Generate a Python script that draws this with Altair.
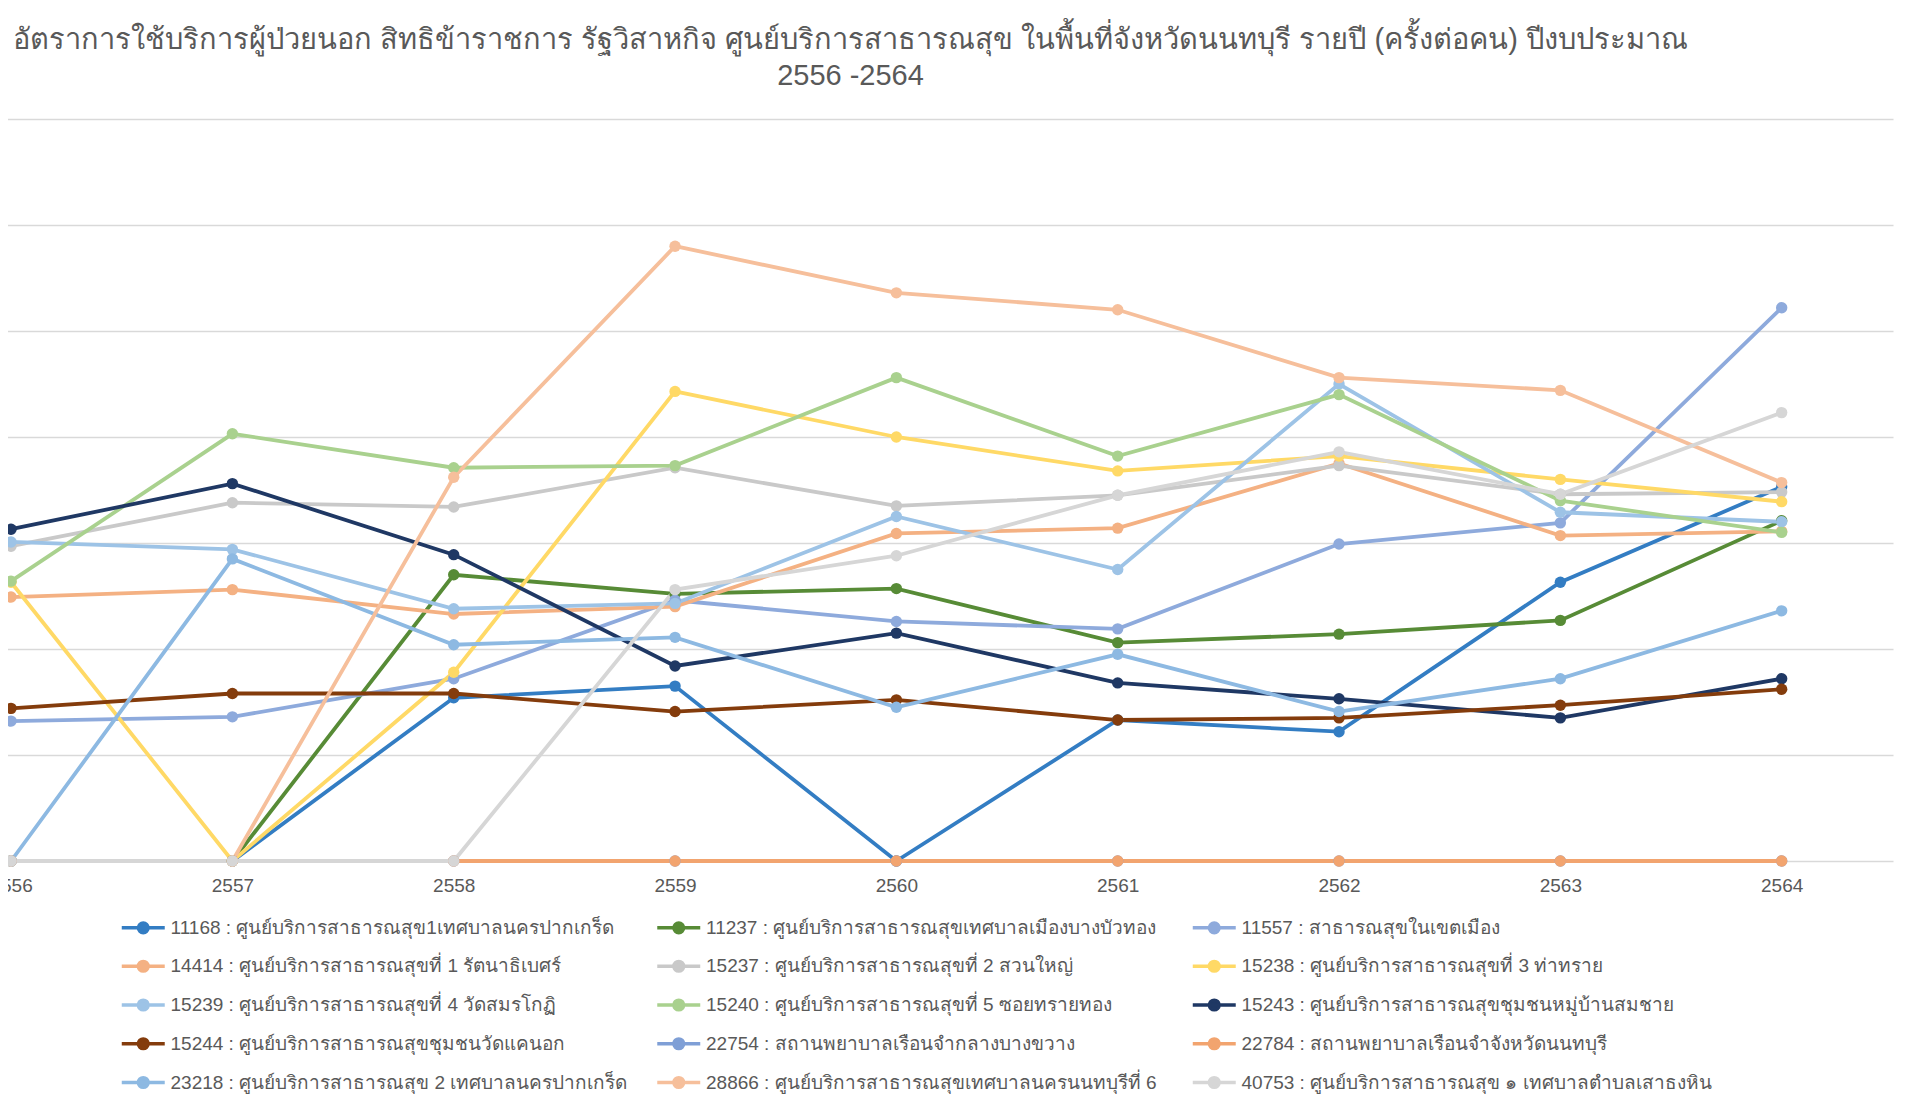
import altair as alt
import pandas as pd

years = [2556, 2557, 2558, 2559, 2560, 2561, 2562, 2563, 2564]

series_names = [
    "11168 : ศูนย์บริการสาธารณสุข1เทศบาลนครปากเกร็ด",
    "11237 : ศูนย์บริการสาธารณสุขเทศบาลเมืองบางบัวทอง",
    "11557 : สาธารณสุขในเขตเมือง",
    "14414 : ศูนย์บริการสาธารณสุขที่ 1 รัตนาธิเบศร์",
    "15237 : ศูนย์บริการสาธารณสุขที่ 2 สวนใหญ่",
    "15238 : ศูนย์บริการสาธารณสุขที่ 3 ท่าทราย",
    "15239 : ศูนย์บริการสาธารณสุขที่ 4 วัดสมรโกฏิ",
    "15240 : ศูนย์บริการสาธารณสุขที่ 5 ซอยทรายทอง",
    "15243 : ศูนย์บริการสาธารณสุขชุมชนหมู่บ้านสมชาย",
    "15244 : ศูนย์บริการสาธารณสุขชุมชนวัดแคนอก",
    "22754 : สถานพยาบาลเรือนจำกลางบางขวาง",
    "22784 : สถานพยาบาลเรือนจำจังหวัดนนทบุรี",
    "23218 : ศูนย์บริการสาธารณสุข 2 เทศบาลนครปากเกร็ด",
    "28866 : ศูนย์บริการสาธารณสุขเทศบาลนครนนทบุรีที่ 6",
    "40753 : ศูนย์บริการสาธารณสุข ๑ เทศบาลตำบลเสาธงหิน",
]

series_colors = [
    "#337DC3", "#578B36", "#8EAADC", "#F4B183", "#C9C9C9",
    "#FFD966", "#9DC3E6", "#A9D18E", "#1F3864", "#843C0C",
    "#7F9FD6", "#F2A46F", "#8DB9E2", "#F6BF9B", "#D6D6D6",
]

v_11168 = [0, 0, 1.54, 1.65, 0, 1.33, 1.22, 2.63, 3.53]
v_11237 = [0, 0, 2.70, 2.52, 2.57, 2.06, 2.14, 2.27, 3.21]
v_11557 = [1.32, 1.36, 1.72, 2.46, 2.26, 2.19, 2.99, 3.19, 5.22]
v_14414 = [2.49, 2.56, 2.33, 2.40, 3.09, 3.14, 3.75, 3.07, 3.11]
v_15237 = [2.97, 3.38, 3.34, 3.71, 3.35, 3.45, 3.73, 3.46, 3.48]
v_15238 = [2.63, 0, 1.78, 4.43, 4.00, 3.68, 3.82, 3.60, 3.39]
v_15239 = [3.01, 2.94, 2.38, 2.43, 3.25, 2.75, 4.50, 3.29, 3.20]
v_15240 = [2.64, 4.03, 3.71, 3.73, 4.56, 3.82, 4.40, 3.40, 3.10]
v_15243 = [3.13, 3.56, 2.89, 1.84, 2.15, 1.68, 1.53, 1.35, 1.72]
v_15244 = [1.44, 1.58, 1.58, 1.41, 1.52, 1.33, 1.35, 1.47, 1.62]
v_22754 = [0, 0, 0, 0, 0, 0, 0, 0, 0]
v_22784 = [0, 0, 0, 0, 0, 0, 0, 0, 0]
v_23218 = [0, 2.85, 2.04, 2.11, 1.45, 1.95, 1.41, 1.72, 2.36]
v_28866 = [0, 0, 3.62, 5.80, 5.36, 5.20, 4.56, 4.44, 3.57]
v_40753 = [0, 0, 0, 2.56, 2.88, 3.45, 3.86, 3.46, 4.23]

all_values = [v_11168, v_11237, v_11557, v_14414, v_15237, v_15238, v_15239,
              v_15240, v_15243, v_15244, v_22754, v_22784, v_23218, v_28866,
              v_40753]

title_lines = [
    "อัตราการใช้บริการผู้ป่วยนอก สิทธิข้าราชการ รัฐวิสาหกิจ ศูนย์บริการสาธารณสุข ในพื้นที่จังหวัดนนทบุรี รายปี (ครั้งต่อคน) ปีงบประมาณ",
    "2556 -2564",
]

rows = []
for idx, (name, vals) in enumerate(zip(series_names, all_values)):
    for yr, v in zip(years, vals):
        rows.append({"series": name, "year": yr, "value": v, "k": idx})
df = pd.DataFrame(rows)

TXT = "#595959"
FONT = "Liberation Sans"

legend_path = "M-2,0L2,0M-0.45,0A0.45,0.45,0,1,0,0.45,0A0.45,0.45,0,1,0,-0.45,0Z"

base = alt.Chart(df).encode(
    x=alt.X(
        "year:Q",
        scale=alt.Scale(domain=[2555.95, 2564.503], nice=False, zero=False),
        axis=alt.Axis(values=years, format="d", title=None, labelFontSize=19,
                      labelColor=TXT, labelFont=FONT, ticks=False, domain=False,
                      grid=False, labelPadding=15, labelFlush=False,
                      labelOverlap=False),
    ),
    y=alt.Y(
        "value:Q",
        scale=alt.Scale(domain=[0, 7], nice=False),
        axis=alt.Axis(values=list(range(8)), labels=False, ticks=False,
                      domain=False, title=None, gridColor="#D9D9D9",
                      gridWidth=1.3),
    ),
    color=alt.Color(
        "series:N",
        scale=alt.Scale(domain=series_names, range=series_colors),
        legend=alt.Legend(
            title=None, orient="none", legendX=130.75, legendY=796,
            columns=3, direction="horizontal", symbolType=legend_path,
            symbolSize=462, symbolStrokeWidth=3.5, symbolOffset=0,
            labelOffset=14.75, labelFontSize=19, labelColor=TXT,
            labelFont=FONT, labelLimit=700, columnPadding=9.5,
            rowPadding=13.75, gridAlign="all", padding=0, symbolLimit=0,
            symbolOpacity=1,
        ),
    ),
    order=alt.Order("k:Q"),
)

lines = base.mark_line(strokeWidth=3.8)
pts = base.mark_point(filled=True, size=130, opacity=1)

chart = alt.layer(lines, pts).properties(
    width=1893,
    height=742,
    autosize=alt.AutoSizeParams(type="none"),
    padding={"left": -8, "top": 111, "right": 16, "bottom": 247},
    title=alt.TitleParams(
        text=title_lines, fontSize=29, color=TXT, font=FONT,
        fontWeight="normal", anchor="middle", dx=-96, offset=28,
        lineHeight=36,
    ),
).configure_view(stroke=None)

chart.save("out.html", embed_options={"renderer": "svg", "actions": False})
